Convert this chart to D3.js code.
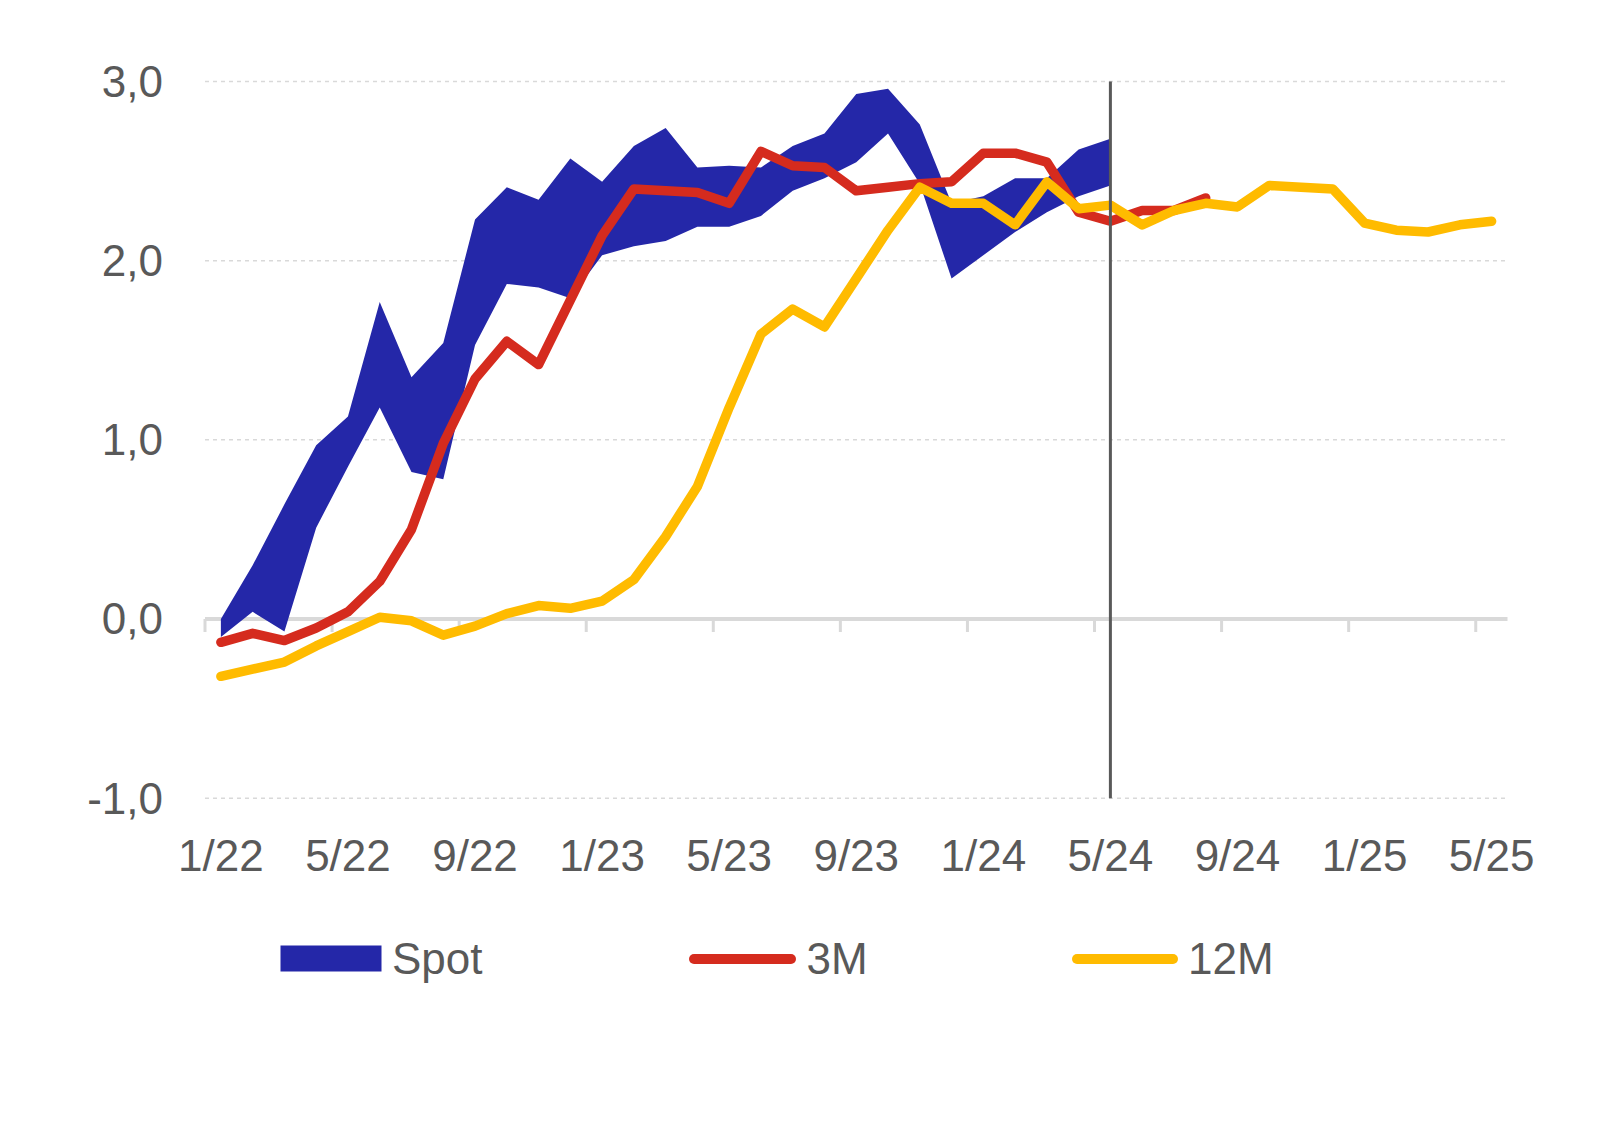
<!DOCTYPE html>
<html>
<head>
<meta charset="utf-8">
<script src="https://cdn.jsdelivr.net/npm/d3@7"></script>
<style>
  html, body { margin: 0; padding: 0; background: #fff; }
  svg { display: block; }
  text { font-family: "Liberation Sans", Arial, sans-serif; fill: #595959; }
</style>
</head>
<body>
<svg id="chart" width="1617" height="1125"></svg>
<script>
// ---- Data ----
const categories = [
  "1/22","2/22","3/22","4/22","5/22","6/22","7/22","8/22","9/22","10/22","11/22","12/22",
  "1/23","2/23","3/23","4/23","5/23","6/23","7/23","8/23","9/23","10/23","11/23","12/23",
  "1/24","2/24","3/24","4/24","5/24","6/24","7/24","8/24","9/24","10/24","11/24","12/24",
  "1/25","2/25","3/25","4/25","5/25"
];
const tickLabels = ["1/22","5/22","9/22","1/23","5/23","9/23","1/24","5/24","9/24","1/25","5/25"];
const yTicks = [-1, 0, 1, 2, 3];
const yTickLabels = ["-1,0", "0,0", "1,0", "2,0", "3,0"];

// Spot range (lower / upper), 1/22 .. 5/24
const spotLow = [-0.10, 0.04, -0.07, 0.51, 0.85, 1.18, 0.82, 0.78, 1.53, 1.87, 1.85, 1.79,
                 2.03, 2.08, 2.11, 2.19, 2.19, 2.25, 2.39, 2.46, 2.55, 2.71, 2.43, 1.90,
                 2.03, 2.16, 2.27, 2.36, 2.42];
const spotHigh = [0.00, 0.30, 0.64, 0.97, 1.13, 1.77, 1.35, 1.54, 2.23, 2.41, 2.34, 2.57,
                  2.44, 2.64, 2.74, 2.52, 2.53, 2.52, 2.64, 2.71, 2.93, 2.96, 2.76, 2.32,
                  2.36, 2.46, 2.46, 2.62, 2.68];
// 3M, 1/22 .. 8/24
const m3 = [-0.13, -0.08, -0.12, -0.05, 0.04, 0.21, 0.50, 0.98, 1.34, 1.55, 1.42, 1.78,
            2.14, 2.40, 2.39, 2.38, 2.32, 2.61, 2.53, 2.52, 2.39, 2.41, 2.43, 2.44,
            2.60, 2.60, 2.55, 2.27, 2.22, 2.28, 2.28, 2.35];
// 12M, 1/22 .. 5/25
const m12 = [-0.32, -0.28, -0.24, -0.15, -0.07, 0.01, -0.01, -0.09, -0.04, 0.03, 0.075, 0.06,
             0.10, 0.22, 0.46, 0.74, 1.18, 1.59, 1.73, 1.63, 1.90, 2.17, 2.41, 2.32,
             2.32, 2.20, 2.44, 2.29, 2.31, 2.20, 2.28, 2.32, 2.30, 2.42, 2.41, 2.40,
             2.21, 2.17, 2.16, 2.20, 2.22];
const markerCategory = "5/24";
const seriesNames = ["Spot", "3M", "12M"];
const colors = { spot: "#2427A8", m3: "#D52B1E", m12: "#FFBB00", grid: "#D9D9D9", text: "#595959" };

// ---- Scales ----
const svg = d3.select("#chart");
const x = d3.scaleBand().domain(categories).range([205, 1507.5]).padding(0);
const cx = c => x(c) + x.bandwidth() / 2;
const y = d3.scaleLinear().domain([-1, 3]).range([798.2, 81.5]);

// ---- Gridlines ----
svg.append("g").selectAll("line").data(yTicks.filter(v => v !== 0)).join("line")
  .attr("x1", x.range()[0]).attr("x2", x.range()[1])
  .attr("y1", d => y(d)).attr("y2", d => y(d))
  .attr("stroke", colors.grid).attr("stroke-width", 1.5).attr("stroke-dasharray", "4,4");

// ---- Zero axis with tick marks ----
const tickCats = categories.filter((c, i) => i % 4 === 0);
svg.append("g").selectAll("line").data(tickCats).join("line")
  .attr("x1", d => x(d)).attr("x2", d => x(d))
  .attr("y1", y(0)).attr("y2", y(0) + 13)
  .attr("stroke", colors.grid).attr("stroke-width", 3);
svg.append("line")
  .attr("x1", x.range()[0]).attr("x2", x.range()[1])
  .attr("y1", y(0)).attr("y2", y(0))
  .attr("stroke", colors.grid).attr("stroke-width", 4);

// ---- Y labels ----
svg.append("g").selectAll("text").data(yTicks).join("text")
  .attr("x", 163).attr("y", d => y(d)).attr("dy", "0.35em")
  .attr("text-anchor", "end").attr("font-size", 44)
  .text((d, i) => yTickLabels[i]);

// ---- X labels ----
svg.append("g").selectAll("text").data(tickLabels).join("text")
  .attr("x", d => cx(d)).attr("y", 871)
  .attr("text-anchor", "middle").attr("font-size", 44)
  .text(d => d);

// ---- Spot band ----
const spotData = spotLow.map((v, i) => ({ c: categories[i], lo: v, hi: spotHigh[i] }));
svg.append("path").datum(spotData)
  .attr("fill", colors.spot)
  .attr("d", d3.area().x(d => cx(d.c)).y0(d => y(d.lo)).y1(d => y(d.hi)));

// ---- Lines ----
const line = d3.line().x(d => cx(d.c)).y(d => y(d.v));
svg.append("path").datum(m3.map((v, i) => ({ c: categories[i], v })))
  .attr("fill", "none").attr("stroke", colors.m3).attr("stroke-width", 9.5)
  .attr("stroke-linejoin", "round").attr("stroke-linecap", "round")
  .attr("d", line);
svg.append("path").datum(m12.map((v, i) => ({ c: categories[i], v })))
  .attr("fill", "none").attr("stroke", colors.m12).attr("stroke-width", 9.5)
  .attr("stroke-linejoin", "round").attr("stroke-linecap", "round")
  .attr("d", line);

// ---- Vertical marker ----
svg.append("line")
  .attr("x1", cx(markerCategory)).attr("x2", cx(markerCategory))
  .attr("y1", y(3)).attr("y2", y(-1))
  .attr("stroke", "#595959").attr("stroke-width", 3);

// ---- Legend ----
const lg = svg.append("g");
lg.append("rect").attr("x", 280.5).attr("y", 945.5).attr("width", 101).attr("height", 26)
  .attr("fill", colors.spot);
lg.append("text").attr("x", 392).attr("y", 973.5).attr("font-size", 44).text(seriesNames[0]);
lg.append("line").attr("x1", 694).attr("x2", 791).attr("y1", 959).attr("y2", 959)
  .attr("stroke", colors.m3).attr("stroke-width", 10).attr("stroke-linecap", "round");
lg.append("text").attr("x", 806.5).attr("y", 973.5).attr("font-size", 44).text(seriesNames[1]);
lg.append("line").attr("x1", 1077).attr("x2", 1173).attr("y1", 959).attr("y2", 959)
  .attr("stroke", colors.m12).attr("stroke-width", 10).attr("stroke-linecap", "round");
lg.append("text").attr("x", 1188).attr("y", 973.5).attr("font-size", 44).text(seriesNames[2]);
</script>
</body>
</html>
